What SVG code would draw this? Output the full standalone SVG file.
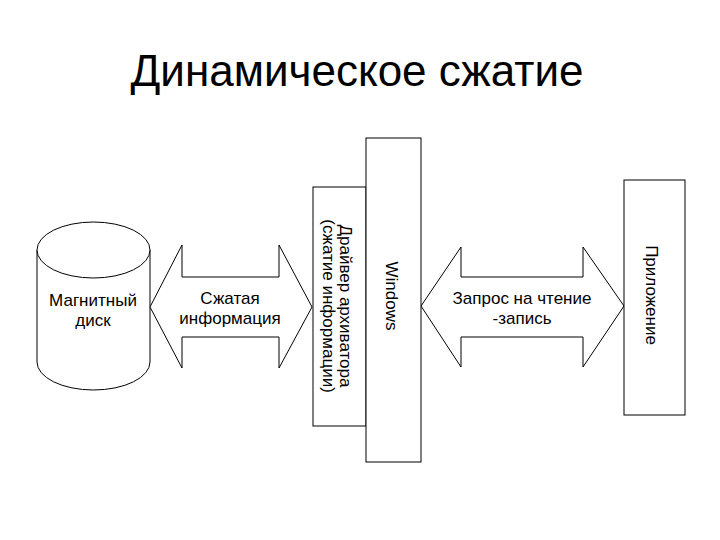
<svg xmlns="http://www.w3.org/2000/svg" width="720" height="540" viewBox="0 0 720 540">
<style>
  .shape { fill: #ffffff; stroke: #000000; stroke-width: 1; }
  .lbl { font-family: "Liberation Sans", Arial, sans-serif; font-size: 17px; fill: #000000; text-anchor: middle; }
  .title { font-family: "Liberation Sans", Arial, sans-serif; font-size: 44px; fill: #000000; text-anchor: middle; }
</style>
<rect width="720" height="540" fill="#ffffff"/>
<text class="title" x="357" y="86">Динамическое сжатие</text>

<g id="disk">
  <path class="shape" d="M37,250 L37,362 A56.5,28 0 0 0 150,362 L150,250"/>
  <ellipse class="shape" cx="93.5" cy="250" rx="56.5" ry="28"/>
  <text class="lbl" x="93" y="306">Магнитный</text>
  <text class="lbl" x="93" y="326">диск</text>
</g>

<g id="connectors">
  <g id="arrow-compressed">
    <path class="shape" d="M150,307 L182,245 L182,277 L279,277 L279,245 L312,307 L279,368 L279,337 L182,337 L182,368 Z"/>
    <text class="lbl" x="230" y="304">Сжатая</text>
    <text class="lbl" x="230" y="324">информация</text>
  </g>
  <g id="arrow-request">
    <path class="shape" d="M421,306 L461,247 L461,277 L583,277 L583,247 L624,306 L583,367 L583,337 L461,337 L461,367 Z"/>
    <text class="lbl" x="522" y="304">Запрос на чтение</text>
    <text class="lbl" x="522" y="324">-запись</text>
  </g>
</g>

<g id="driver">
  <rect class="shape" x="313" y="187" width="53" height="239"/>
  <text class="lbl" transform="translate(340,306) rotate(90)">Драйвер архиватора</text>
  <text class="lbl" transform="translate(323,306) rotate(90)">(сжатие информации)</text>
</g>

<g id="windows">
  <rect class="shape" x="366" y="138" width="55" height="324"/>
  <text class="lbl" transform="translate(386,296) rotate(90)">Windows</text>
</g>

<g id="application">
  <rect class="shape" x="624" y="180" width="61" height="235"/>
  <text class="lbl" transform="translate(646,295) rotate(90)">Приложение</text>
</g>
</svg>
